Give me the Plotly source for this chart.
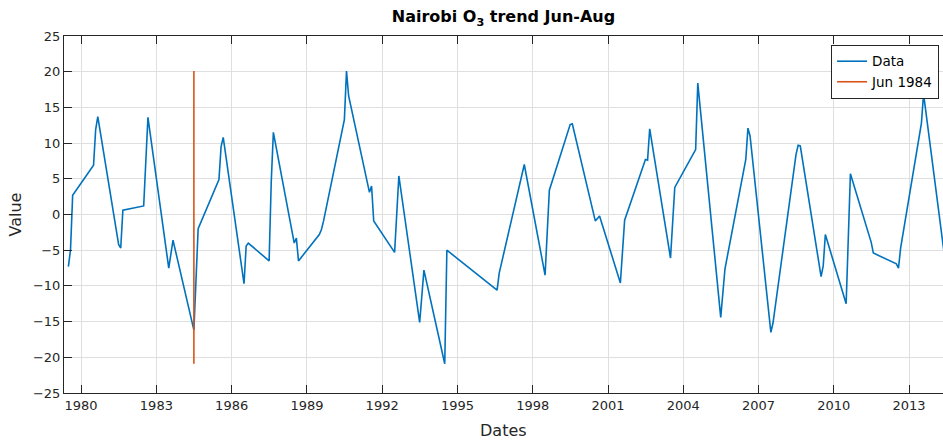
import plotly.graph_objects as go

# Monthly (Jun-Aug) O3 anomaly values
dates = [
    "1979-06-30", "1979-07-31", "1979-08-31",
    "1980-06-30", "1980-07-31", "1980-08-31",
    "1981-06-30", "1981-07-31", "1981-08-31",
    "1982-06-30", "1982-08-31",
    "1983-06-30", "1983-08-31",
    "1984-06-30", "1984-08-31",
    "1985-06-30", "1985-07-31", "1985-08-31",
    "1986-06-30", "1986-07-31", "1986-08-31",
    "1987-06-30", "1987-07-31", "1987-08-31",
    "1988-06-30", "1988-07-31", "1988-08-31",
    "1989-06-30", "1989-07-31", "1989-08-31",
    "1990-06-30", "1990-07-31", "1990-08-31",
    "1991-06-30", "1991-07-31", "1991-08-31",
    "1992-06-30", "1992-08-31",
    "1993-06-30", "1993-08-31",
    "1994-06-30", "1994-07-31",
    "1996-07-31", "1996-08-31",
    "1997-08-31",
    "1998-06-30", "1998-08-31",
    "1999-06-30", "1999-07-31",
    "2000-06-30", "2000-08-31",
    "2001-06-30", "2001-08-31",
    "2002-06-30", "2002-07-31", "2002-08-31",
    "2003-06-30", "2003-08-31",
    "2004-06-30", "2004-07-31",
    "2005-06-30", "2005-08-31",
    "2006-06-30", "2006-07-31", "2006-08-31",
    "2007-06-30", "2007-07-31",
    "2008-06-30", "2008-07-31", "2008-08-31",
    "2009-06-30", "2009-07-31", "2009-08-31",
    "2010-06-30", "2010-08-31",
    "2011-06-30", "2011-07-31",
    "2012-06-30", "2012-07-31", "2012-08-31",
    "2013-06-30", "2013-07-31",
    "2014-06-30",
]
values = [
    -7.3, -4.9, 2.7,
    6.9, 11.9, 13.7,
    -4.2, -4.7, 0.6,
    1.2, 13.6,
    -7.5, -3.6,
    -16.2, -2.0,
    4.9, 9.5, 10.8,
    -9.7, -4.4, -4.0,
    -6.5, 4.5, 11.5,
    -4.0, -3.3, -6.5,
    -2.8, -2.1, -0.9,
    13.3, 20.1, 16.6,
    3.1, 4.0, -0.9,
    -5.3, 5.4,
    -15.1, -7.8,
    -20.9, -5.0,
    -10.6, -8.2,
    7.0,
    -8.5, 3.4,
    12.6, 12.7,
    -0.9, -0.2,
    -9.6, -0.8,
    7.7, 7.6, 12.0,
    -6.1, 3.8,
    9.1, 18.4,
    -14.4, -7.6,
    7.7, 12.1, 11.0,
    -16.5, -15.2,
    8.4, 9.7, 9.6,
    -8.7, -7.2, -2.8,
    -12.5, 5.7,
    -3.9, -5.4,
    -6.9, -7.5, -4.7,
    12.8, 16.9,
    -8.0,
]

marker_date = "1984-06-30"
marker_label = "Jun 1984"
x_range = ["1979-04-27", "2014-05-10"]
y_ticks = [-25, -20, -15, -10, -5, 0, 5, 10, 15, 20, 25]
x_tick_years = ["1980", "1983", "1986", "1989", "1992", "1995", "1998",
                "2001", "2004", "2007", "2010", "2013"]

FONT = "DejaVu Sans, Liberation Sans, Arial, sans-serif"
AX = "#262626"
GRID = "#dfdfdf"

fig = go.Figure()
fig.add_trace(go.Scatter(
    x=dates, y=values, mode="lines", name="Data",
    line=dict(color="#0072BD", width=1.6),
))
fig.add_trace(go.Scatter(
    x=[marker_date, marker_date], y=[min(values), max(values)],
    mode="lines", name=marker_label,
    line=dict(color="#D95319", width=1.6),
))

fig.update_layout(
    width=943, height=443,
    margin=dict(l=64, r=0, t=36, b=50, autoexpand=False),
    paper_bgcolor="white", plot_bgcolor="white",
    font=dict(family=FONT, size=13, color=AX),
    title=dict(
        text="<b>Nairobi O<sub>3</sub> trend Jun-Aug</b>",
        x=0.5, xref="paper", xanchor="center",
        y=0.962, yref="container", yanchor="middle",
        font=dict(family=FONT, size=16, color="black"),
    ),
    showlegend=True,
    legend=dict(
        x=0.9955, y=0.975, xanchor="right", yanchor="top",
        bgcolor="white", bordercolor=AX, borderwidth=1,
        font=dict(family=FONT, size=13.5, color="black"),
        tracegroupgap=0,
    ),
    annotations=[
        dict(text="Dates", xref="paper", yref="paper", x=0.5, y=-0.106,
             xanchor="center", yanchor="middle", showarrow=False,
             font=dict(family=FONT, size=16, color=AX)),
        dict(text="Value", xref="paper", yref="paper", x=-0.0557, y=0.5,
             xanchor="center", yanchor="middle", textangle=-90, showarrow=False,
             font=dict(family=FONT, size=16, color=AX)),
    ],
)

fig.update_xaxes(
    type="date", range=x_range, automargin=False,
    tickmode="array", tickvals=[y + "-01-01" for y in x_tick_years],
    ticktext=x_tick_years,
    ticks="inside", ticklen=8, tickcolor=AX, tickwidth=1,
    showline=True, linecolor=AX, linewidth=1, mirror="ticks",
    showgrid=True, gridcolor=GRID, gridwidth=1,
    zeroline=False,
    tickfont=dict(family=FONT, size=13, color=AX),
)
fig.update_yaxes(
    range=[-25, 25], tickmode="array", tickvals=y_ticks, automargin=False,
    ticks="inside", ticklen=8, tickcolor=AX, tickwidth=1,
    showline=True, linecolor=AX, linewidth=1, mirror=False,
    showgrid=True, gridcolor=GRID, gridwidth=1,
    zeroline=False,
    tickfont=dict(family=FONT, size=13, color=AX),
)

fig.write_html(
    "out.html",
    config={"displayModeBar": False},
    post_script="document.body.style.margin='0';document.body.style.overflow='hidden';",
)
